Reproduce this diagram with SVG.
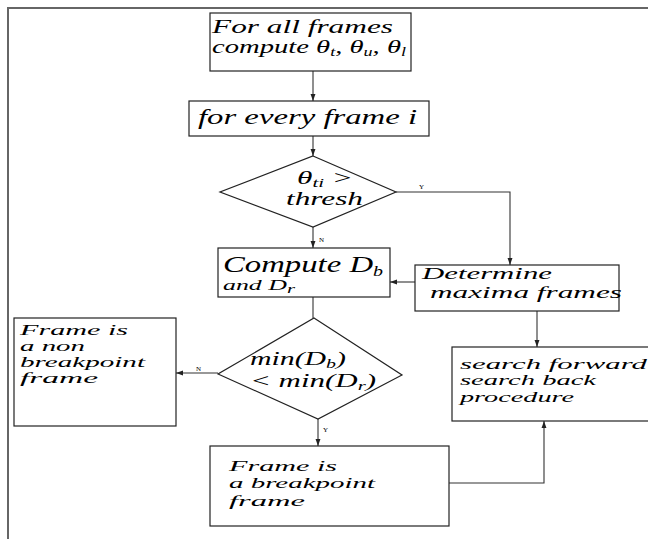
<svg xmlns="http://www.w3.org/2000/svg" width="648" height="539" viewBox="0 0 648 539">
<style>
.box{fill:#fff;stroke:#222;stroke-width:1.2}
.con{fill:none;stroke:#333;stroke-width:1.1}
text.t{font-family:'Liberation Serif',serif;font-style:italic;font-weight:normal;font-size:19px;fill:#000}
text.sm{font-size:15px}
tspan.sub{font-size:12px}
.lbl{font-family:'Liberation Serif',serif;font-size:7px;fill:#000}
</style>
<defs>
<marker id="ah" viewBox="0 0 10 10" refX="10" refY="5" markerWidth="7" markerHeight="7" markerUnits="userSpaceOnUse" orient="auto">
<path d="M0,1.5 L10,5 L0,8.5 z" fill="#222"/>
</marker>
</defs>
<path d="M8,539 V8 H648" fill="none" stroke="#666" stroke-width="2"/>
<g id="connectors">
<path class="con" d="M313,71 V101" marker-end="url(#ah)"/>
<path class="con" d="M313,136 V156" marker-end="url(#ah)"/>
<path class="con" d="M396,192 H510 V265" marker-end="url(#ah)"/>
<path class="con" d="M313,227 V248" marker-end="url(#ah)"/>
<path class="con" d="M415,282 H390" marker-end="url(#ah)"/>
<path class="con" d="M313,297 V318"/>
<path class="con" d="M537,311 V347" marker-end="url(#ah)"/>
<path class="con" d="M218,373 H176" marker-end="url(#ah)"/>
<path class="con" d="M318,419 V446" marker-end="url(#ah)"/>
<path class="con" d="M449,483 H544 V421" marker-end="url(#ah)"/>
<text class="lbl" x="419" y="189">Y</text>
<text class="lbl" x="319" y="242">N</text>
<text class="lbl" x="196" y="371">N</text>
<text class="lbl" x="323" y="432">Y</text>
</g>
<g id="n1">
<rect class="box" x="210" y="13" width="201" height="58"/>
<text class="t" x="212" y="33" textLength="181" lengthAdjust="spacingAndGlyphs">For all frames</text>
<text class="t" x="212" y="53" textLength="194" lengthAdjust="spacingAndGlyphs">compute θ<tspan class="sub" dy="3">t</tspan><tspan dy="-3">, θ</tspan><tspan class="sub" dy="3">u</tspan><tspan dy="-3">, θ</tspan><tspan class="sub" dy="3">l</tspan></text>
</g>
<g id="n2">
<rect class="box" x="189" y="101" width="240" height="35"/>
<text class="t" x="198" y="124" style="font-size:22px" textLength="219" lengthAdjust="spacingAndGlyphs">for every frame i</text>
</g>
<g id="n3">
<path class="box" d="M313,156 L396,192 L313,227 L220,192 Z"/>
<text class="t" x="297" y="184" style="font-size:18px" textLength="56" lengthAdjust="spacingAndGlyphs">θ<tspan class="sub" dy="3">ti</tspan><tspan dy="-3"> &gt;</tspan></text>
<text class="t" x="286" y="205" style="font-size:18px" textLength="77" lengthAdjust="spacingAndGlyphs">thresh</text>
</g>
<g id="n4">
<rect class="box" x="218" y="248" width="172" height="49"/>
<text class="t" x="223" y="272" style="font-size:23px" textLength="160" lengthAdjust="spacingAndGlyphs">Compute D<tspan class="sub" style="font-size:14px" dy="4">b</tspan></text>
<text class="t sm" x="223" y="290" textLength="72" lengthAdjust="spacingAndGlyphs">and D<tspan class="sub" dy="3">r</tspan></text>
</g>
<g id="n5">
<rect class="box" x="415" y="265" width="204" height="46"/>
<text class="t" x="422" y="279" style="font-size:17px" textLength="130" lengthAdjust="spacingAndGlyphs">Determine</text>
<text class="t" x="430" y="298" style="font-size:17px" textLength="192" lengthAdjust="spacingAndGlyphs">maxima frames</text>
</g>
<g id="n6">
<path class="box" d="M314,318 L402,375 L318,419 L218,374 Z"/>
<text class="t" x="250" y="365" style="font-size:18px" textLength="96" lengthAdjust="spacingAndGlyphs">min(D<tspan class="sub" dy="3">b</tspan><tspan dy="-3">)</tspan></text>
<text class="t" x="250" y="387" style="font-size:18px" textLength="126" lengthAdjust="spacingAndGlyphs">&lt; min(D<tspan class="sub" dy="3">r</tspan><tspan dy="-3">)</tspan></text>
</g>
<g id="n7">
<rect class="box" x="14" y="318" width="162" height="108"/>
<text class="t sm" x="20" y="335" textLength="108" lengthAdjust="spacingAndGlyphs">Frame is</text>
<text class="t sm" x="20" y="351" textLength="65" lengthAdjust="spacingAndGlyphs">a non</text>
<text class="t sm" x="20" y="367" textLength="125" lengthAdjust="spacingAndGlyphs">breakpoint</text>
<text class="t sm" x="20" y="383" textLength="78" lengthAdjust="spacingAndGlyphs">frame</text>
</g>
<g id="n8">
<rect class="box" x="452" y="347" width="210" height="74"/>
<text class="t sm" x="460" y="369" textLength="187" lengthAdjust="spacingAndGlyphs">search forward</text>
<text class="t sm" x="460" y="385" textLength="136" lengthAdjust="spacingAndGlyphs">search back</text>
<text class="t sm" x="460" y="402" textLength="114" lengthAdjust="spacingAndGlyphs">procedure</text>
</g>
<g id="n9">
<rect class="box" x="210" y="446" width="239" height="80"/>
<text class="t sm" x="229" y="471" textLength="108" lengthAdjust="spacingAndGlyphs">Frame is</text>
<text class="t sm" x="229" y="488" textLength="146" lengthAdjust="spacingAndGlyphs">a breakpoint</text>
<text class="t sm" x="229" y="506" textLength="76" lengthAdjust="spacingAndGlyphs">frame</text>
</g>
</svg>
